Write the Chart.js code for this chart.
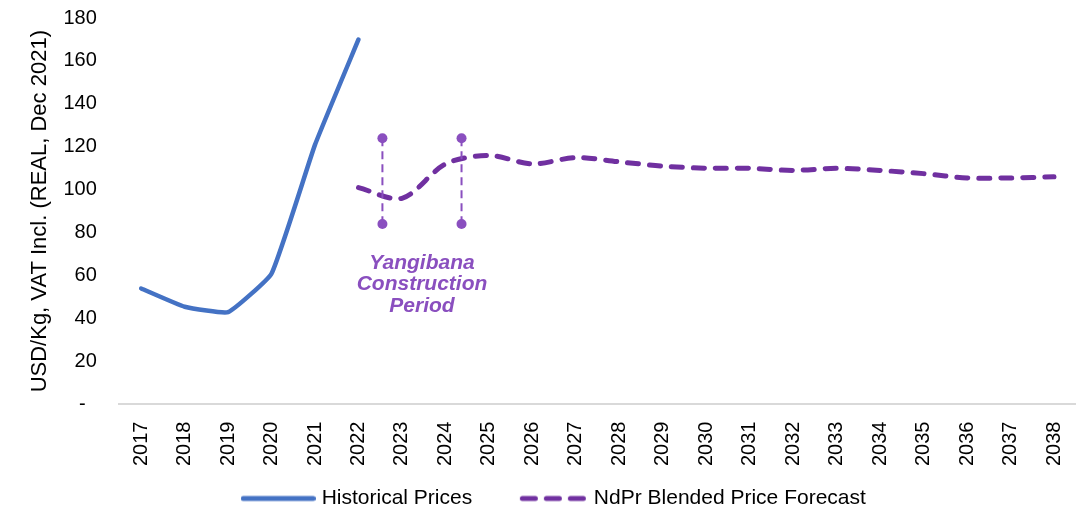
<!DOCTYPE html>
<html>
<head>
<meta charset="utf-8">
<script src="https://cdn.jsdelivr.net/npm/chart.js@4"></script>
<style>
  html, body { margin: 0; padding: 0; background: #fff; }
  #wrap { width: 1084px; height: 512px; }
</style>
</head>
<body>
<div id="wrap"><canvas id="chart-ndpr"></canvas></div>
<script>
const years = ['2017', '2018', '2019', '2020', '2021', '2022', '2023', '2024', '2025', '2026', '2027',
  '2028', '2029', '2030', '2031', '2032', '2033', '2034', '2035', '2036', '2037', '2038'];
const historical = [54, 45.5, 43, 61, 121, 170];
const forecast = [null, null, null, null, null, 101, 96, 112, 116, 112, 115, 113, 111, 110, 110, 109, 110, 109, 107.5, 105.5, 105.5, 106];
// construction period markers (category position, value range)
const constructionAt = [5.55, 7.37];
const constructionRange = [84, 124];
const constructionLabel = ['Yangibana', 'Construction', 'Period'];

const FONT = "'Liberation Sans', Arial, sans-serif";
const BLUE = '#4472c4';
const PURPLE = '#7030a0';

// little line samples for the legend (solid / dashed)
function legendSample(color, dash) {
  const c = document.createElement('canvas');
  c.width = 75;
  c.height = 8;
  const g = c.getContext('2d');
  g.strokeStyle = color;
  g.lineWidth = 5;
  g.lineCap = 'round';
  g.setLineDash(dash);
  g.beginPath();
  if (dash.length) {
    g.moveTo(9.5, 4);
    g.lineTo(73, 4);
  } else {
    g.moveTo(2.5, 4);
    g.lineTo(72.5, 4);
  }
  g.stroke();
  return c;
}

const constructionPlugin = {
  id: 'construction',
  afterDatasetsDraw(chart) {
    const { ctx, scales: { x, y } } = chart;
    const yTop = y.getPixelForValue(constructionRange[1]);
    const yBot = y.getPixelForValue(constructionRange[0]);
    ctx.save();
    ctx.strokeStyle = '#8a4fbf';
    ctx.fillStyle = '#8a4fbf';
    ctx.lineWidth = 2;
    constructionAt.forEach(pos => {
      const px = x.getPixelForValue(pos);
      ctx.setLineDash([8, 5]);
      ctx.beginPath();
      ctx.moveTo(px, yTop);
      ctx.lineTo(px, yBot);
      ctx.stroke();
      ctx.setLineDash([]);
      [yTop, yBot].forEach(py => {
        ctx.beginPath();
        ctx.arc(px, py, 5, 0, Math.PI * 2);
        ctx.fill();
      });
    });
    const cx = (x.getPixelForValue(constructionAt[0]) + x.getPixelForValue(constructionAt[1])) / 2;
    ctx.font = "italic bold 21px " + FONT;
    ctx.textAlign = 'center';
    ctx.textBaseline = 'middle';
    constructionLabel.forEach((t, i) => {
      ctx.fillText(t, cx, y.getPixelForValue(66) + i * 21.5);
    });
    ctx.restore();
  }
};

new Chart(document.getElementById('chart-ndpr').getContext('2d'), {
  type: 'line',
  data: {
    labels: years,
    datasets: [
      {
        label: 'Historical Prices',
        data: historical,
        borderColor: BLUE,
        backgroundColor: BLUE,
        borderWidth: 4.5,
        borderCapStyle: 'round',
        pointRadius: 0,
        tension: 0.12
      },
      {
        label: 'NdPr Blended Price Forecast',
        data: forecast,
        borderColor: PURPLE,
        backgroundColor: PURPLE,
        borderWidth: 5,
        borderDash: [11, 11],
        borderCapStyle: 'round',
        pointRadius: 0,
        tension: 0.3
      }
    ]
  },
  options: {
    responsive: true,
    maintainAspectRatio: false,
    animation: false,
    layout: { padding: { top: 0, right: 0, bottom: -7, left: 27 } },
    plugins: {
      tooltip: { enabled: false },
      legend: {
        position: 'bottom',
        labels: {
          color: '#000',
          font: { family: FONT, size: 21 },
          usePointStyle: true,
          pointStyleWidth: 66,
          boxHeight: 4,
          padding: 16,
          generateLabels(chart) {
            const items = Chart.defaults.plugins.legend.labels.generateLabels(chart);
            items[0].pointStyle = legendSample(BLUE, []);
            items[0].text += '     ';
            items[1].pointStyle = legendSample(PURPLE, [13, 11]);
            return items;
          }
        }
      }
    },
    scales: {
      x: {
        offset: true,
        grid: { display: false, drawTicks: false },
        border: { color: '#d9d9d9', width: 2 },
        ticks: {
          color: '#000',
          font: { family: FONT, size: 20 },
          maxRotation: 90,
          minRotation: 90,
          padding: 6,
          autoSkip: false,
          callback(v) { return this.getLabelForValue(v) + '  '; }
        }
      },
      y: {
        min: 0,
        max: 180,
        grid: { display: false, drawTicks: false },
        border: { display: false },
        ticks: {
          stepSize: 20,
          color: '#000',
          font: { family: FONT, size: 20 },
          padding: 6,
          callback: v => v === 0 ? '-     ' : v + '   '
        },
        title: {
          display: true,
          text: 'USD/Kg, VAT Incl. (REAL, Dec 2021)',
          color: '#000',
          font: { family: FONT, size: 22 },
          padding: { top: 0, bottom: 4 }
        }
      }
    }
  },
  plugins: [constructionPlugin]
});
</script>
</body>
</html>
